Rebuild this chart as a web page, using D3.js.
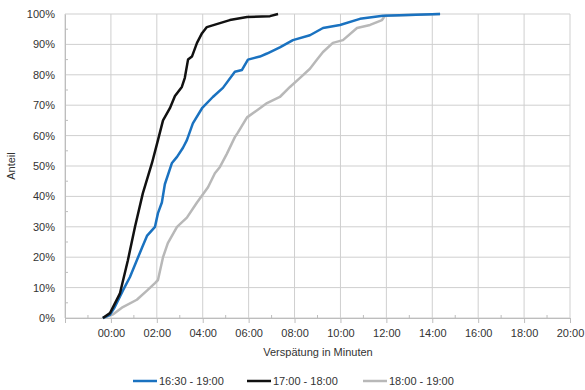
<!DOCTYPE html>
<html>
<head>
<meta charset="utf-8">
<script src="https://cdn.jsdelivr.net/npm/d3@7"></script>
<style>
  body { margin: 0; background: #fff; }
  text { font-family: "Liberation Sans", Arial, sans-serif; }
</style>
</head>
<body>
<svg id="chart" width="585" height="390"></svg>
<script>
// minutes of delay vs. cumulative share
var blue_min = [-0.35, -0.05, 0.17, 0.52, 0.83, 1.13, 1.35, 1.57, 1.92, 2.05, 2.22, 2.35, 2.66, 2.88, 3.14, 3.31, 3.57, 3.97, 4.44, 4.88, 5.4, 5.71, 5.97, 6.49, 6.8, 7.36, 7.93, 8.67, 9.24, 9.98, 10.85, 11.85, 14.34];
var blue_val = [0, 0.01, 0.036, 0.09, 0.135, 0.19, 0.23, 0.27, 0.30, 0.345, 0.38, 0.44, 0.51, 0.53, 0.56, 0.585, 0.64, 0.69, 0.727, 0.757, 0.81, 0.816, 0.85, 0.86, 0.87, 0.89, 0.914, 0.93, 0.954, 0.964, 0.984, 0.994, 1.0];

var black_min = [-0.35, -0.04, 0.39, 0.74, 1.05, 1.39, 1.79, 2.05, 2.27, 2.57, 2.79, 3.09, 3.22, 3.36, 3.53, 3.75, 3.97, 4.18, 4.75, 5.18, 5.93, 6.93, 7.28];
var black_val = [0, 0.016, 0.08, 0.19, 0.30, 0.41, 0.51, 0.585, 0.65, 0.69, 0.73, 0.76, 0.79, 0.85, 0.86, 0.905, 0.937, 0.957, 0.97, 0.98, 0.99, 0.993, 1.0];

var gray_min = [-0.35, 0.1, 0.52, 1.13, 1.57, 1.92, 2.05, 2.27, 2.48, 2.88, 3.31, 3.75, 4.23, 4.53, 4.75, 5.05, 5.4, 5.53, 5.93, 6.49, 6.8, 7.36, 7.8, 8.24, 8.67, 8.98, 9.24, 9.67, 10.11, 10.72, 11.29, 11.81, 11.94, 14.34];
var gray_val = [0, 0.012, 0.036, 0.06, 0.09, 0.115, 0.125, 0.20, 0.246, 0.30, 0.33, 0.38, 0.43, 0.476, 0.497, 0.54, 0.595, 0.61, 0.66, 0.69, 0.707, 0.727, 0.76, 0.79, 0.82, 0.85, 0.875, 0.905, 0.914, 0.954, 0.964, 0.98, 0.994, 1.0];

var series_names = ["16:30 - 19:00", "17:00 - 18:00", "18:00 - 19:00"];
var series_colors = ["#1a72c0", "#111111", "#b8b8b8"];

var x_ticks = [-2, 0, 2, 4, 6, 8, 10, 12, 14, 16, 18, 20];
var y_ticks = [0, 0.1, 0.2, 0.3, 0.4, 0.5, 0.6, 0.7, 0.8, 0.9, 1.0];

var svg = d3.select("svg#chart");

var x = d3.scaleLinear().domain([-2, 20]).range([65, 570]);
var y = d3.scaleLinear().domain([0, 1]).range([318, 14]);

var g = svg.append("g");

//grid lines
g.append("g").selectAll("line.v")
    .data(x_ticks)
    .enter().append("line")
    .attr("x1", function(d) { return x(d); })
    .attr("x2", function(d) { return x(d); })
    .attr("y1", y(1)).attr("y2", y(0))
    .style("stroke", "#cfcfcf");

g.append("g").selectAll("line.h")
    .data(y_ticks)
    .enter().append("line")
    .attr("x1", x(-2)).attr("x2", x(20))
    .attr("y1", function(d) { return y(d); })
    .attr("y2", function(d) { return y(d); })
    .style("stroke", "#cfcfcf");

//x axis
var x_axis = d3.axisBottom(x)
    .tickValues(x_ticks)
    .tickSize(5)
    .tickPadding(6)
    .tickFormat(function(d) { return d < 0 ? "" : d3.format("02")(d) + ":00"; });

var gx = g.append("g")
    .attr("transform", "translate(0," + y(0) + ")")
    .call(x_axis);
gx.select(".domain").style("stroke", "#bdbdbd");
gx.selectAll(".tick line").style("stroke", "#bdbdbd");
gx.selectAll("text").style("font-size", "11px").style("fill", "#333");

//minor x ticks
g.append("g").selectAll("line")
    .data(d3.range(-1, 20, 2))
    .enter().append("line")
    .attr("x1", function(d) { return x(d); })
    .attr("x2", function(d) { return x(d); })
    .attr("y1", y(0) - 3).attr("y2", y(0))
    .style("stroke", "#bdbdbd");

//y axis
var y_axis = d3.axisLeft(y)
    .tickValues(y_ticks)
    .tickSize(0)
    .tickPadding(10)
    .tickFormat(d3.format(".0%"));

var gy = g.append("g")
    .attr("transform", "translate(" + x(-2) + ",0)")
    .call(y_axis);
gy.select(".domain").style("stroke", "#bdbdbd");
gy.selectAll("text").style("font-size", "11px").style("fill", "#333");

//minor y ticks
g.append("g").selectAll("line")
    .data(d3.range(0.05, 1, 0.1))
    .enter().append("line")
    .attr("x1", x(-2)).attr("x2", x(-2) + 3)
    .attr("y1", function(d) { return y(d); })
    .attr("y2", function(d) { return y(d); })
    .style("stroke", "#bdbdbd");

//axis titles
svg.append("text")
    .attr("transform", "translate(15," + y(0.5) + ") rotate(-90)")
    .attr("text-anchor", "middle")
    .style("font-size", "11px")
    .style("fill", "#333")
    .text("Anteil");

svg.append("text")
    .attr("x", 318).attr("y", 356)
    .attr("text-anchor", "middle")
    .style("font-size", "11px")
    .style("fill", "#333")
    .text("Verspätung in Minuten");

//lines
var series = [
  { mins: blue_min, vals: blue_val },
  { mins: black_min, vals: black_val },
  { mins: gray_min, vals: gray_val }
];

var line = d3.line()
    .x(function(d) { return x(d[0]); })
    .y(function(d) { return y(d[1]); });

// draw gray first, then blue, black on top
[2, 0, 1].forEach(function(i) {
  var pts = d3.zip(series[i].mins, series[i].vals);
  g.append("path")
      .datum(pts)
      .attr("d", line)
      .attr("fill", "none")
      .attr("stroke", series_colors[i])
      .attr("stroke-width", 2.5)
      .attr("stroke-linejoin", "round");
});

//legend
var legend_x = [133, 247, 363];
var legend = svg.append("g").selectAll("g")
    .data(series_names)
    .enter().append("g")
    .attr("transform", function(d, i) { return "translate(" + legend_x[i] + ",381)"; });

legend.append("line")
    .attr("x1", 0).attr("x2", 24)
    .attr("stroke", function(d, i) { return series_colors[i]; })
    .attr("stroke-width", 2.5);

legend.append("text")
    .attr("x", 26).attr("y", 4)
    .style("font-size", "11px")
    .style("fill", "#333")
    .text(function(d) { return d; });
</script>
</body>
</html>
